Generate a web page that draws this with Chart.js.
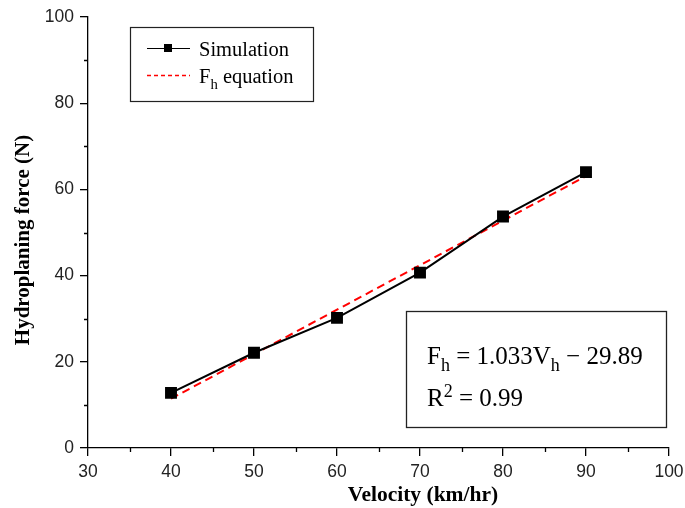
<!DOCTYPE html>
<html>
<head>
<meta charset="utf-8">
<script src="https://cdn.jsdelivr.net/npm/chart.js@4/dist/chart.umd.min.js"></script>
<style>
  html, body { margin: 0; padding: 0; background: #fff; }
  #wrap { width: 685px; height: 508px; }
</style>
</head>
<body>
<div id="wrap"><canvas id="myChart" width="685" height="508"></canvas></div>
<script>
// data
const velocidades = [40, 50, 60, 70, 80, 90];
const fuerzaSim = [12.8, 22.1, 30.2, 40.7, 53.7, 64.0];
const ajusteX = [40, 90];
const ajusteY = [11.43, 63.08];
const ticksX = [30, 40, 50, 60, 70, 80, 90, 100];
const ticksY = [0, 20, 40, 60, 80, 100];
const menoresX = [35, 45, 55, 65, 75, 85, 95];
const menoresY = [10, 30, 50, 70, 90];
const tituloX = "Velocity (km/hr)";
const tituloY = "Hydroplaning force (N)";

const serif = "'Liberation Serif', 'Times New Roman', serif";
const sans = "'Liberation Sans', Arial, sans-serif";

const puntos = (xs, ys) => xs.map((x, i) => ({ x: x, y: ys[i] }));

// small outward minor ticks
const menores = {
  id: "menores",
  afterDraw(chart) {
    const ctx = chart.ctx;
    const sx = chart.scales.x;
    const sy = chart.scales.y;
    ctx.save();
    ctx.strokeStyle = "#000";
    ctx.lineWidth = 1.3;
    ctx.beginPath();
    menoresX.forEach((v) => {
      const px = Math.round(sx.getPixelForValue(v)) + 0.5;
      ctx.moveTo(px, sy.bottom);
      ctx.lineTo(px, sy.bottom + 4);
    });
    menoresY.forEach((v) => {
      const py = Math.round(sy.getPixelForValue(v)) + 0.5;
      ctx.moveTo(sx.left, py);
      ctx.lineTo(sx.left - 4, py);
    });
    ctx.stroke();
    ctx.restore();
  },
};

// text with subscript / superscript parts
const textoMixto = (ctx, partes, x, y, tam, familia) => {
  let cx = x;
  partes.forEach((p) => {
    const t = p.sub || p.sup ? tam * 0.72 : tam;
    ctx.font = t + "px " + familia;
    const dy = p.sub ? tam * 0.28 : p.sup ? -tam * 0.38 : 0;
    ctx.fillText(p.t, cx, y + dy);
    cx += ctx.measureText(p.t).width;
  });
  return cx;
};

const cajas = {
  id: "cajas",
  afterDraw(chart) {
    const ctx = chart.ctx;
    ctx.save();
    ctx.fillStyle = "#000";
    ctx.strokeStyle = "#222";
    ctx.lineWidth = 1.2;
    ctx.textBaseline = "alphabetic";

    // legend
    ctx.fillStyle = "#fff";
    ctx.fillRect(130.5, 27.5, 183, 74);
    ctx.strokeRect(130.5, 27.5, 183, 74);
    ctx.fillStyle = "#000";
    const ds0 = chart.data.datasets[0];
    const ds1 = chart.data.datasets[1];
    ctx.strokeStyle = ds0.borderColor;
    ctx.lineWidth = 1;
    ctx.beginPath();
    ctx.moveTo(147, 48.5);
    ctx.lineTo(190, 48.5);
    ctx.stroke();
    ctx.fillRect(164, 44, 8, 8);
    ctx.strokeStyle = ds1.borderColor;
    ctx.lineWidth = 1.3;
    ctx.setLineDash([4, 3]);
    ctx.beginPath();
    ctx.moveTo(147, 75.5);
    ctx.lineTo(190, 75.5);
    ctx.stroke();
    ctx.setLineDash([]);
    ctx.fillStyle = "#000";
    textoMixto(ctx, [{ t: ds0.label }], 199, 56, 20.5, serif);
    textoMixto(ctx, [{ t: "F" }, { t: "h", sub: true }, { t: " equation" }], 199, 83, 20.5, serif);

    // equation box
    ctx.strokeStyle = "#222";
    ctx.lineWidth = 1.3;
    ctx.strokeRect(406.5, 311.5, 260, 116);
    textoMixto(ctx, [{ t: "F" }, { t: "h", sub: true }, { t: " = 1.033V" }, { t: "h", sub: true }, { t: " \u2212 29.89" }], 427, 364, 25, serif);
    textoMixto(ctx, [{ t: "R" }, { t: "2", sup: true }, { t: " = 0.99" }], 427, 406, 25, serif);

    // axis titles
    ctx.textAlign = "center";
    ctx.textBaseline = "middle";
    ctx.font = "bold 21.5px " + serif;
    ctx.fillText(tituloX, 423, 495);
    ctx.translate(24, 240);
    ctx.rotate(-Math.PI / 2);
    ctx.font = "bold 21px " + serif;
    ctx.fillText(tituloY, 0, 0);
    ctx.restore();
  },
};

const ejeComun = (ticksArr) => ({
  type: "linear",
  border: { display: true, color: "#000", width: 1.3 },
  grid: { drawOnChartArea: false, color: "#000", tickLength: 8, lineWidth: 1.3 },
  afterBuildTicks: (scale) => {
    scale.ticks = ticksArr.map((v) => ({ value: v }));
  },
  ticks: { color: "#222", font: { family: sans, size: 17.5 }, padding: 6, maxRotation: 0, autoSkip: false },
});

const config = {
  type: "scatter",
  data: {
    datasets: [
      {
        label: "Simulation",
        data: puntos(velocidades, fuerzaSim),
        showLine: true,
        borderColor: "#000",
        backgroundColor: "#000",
        borderWidth: 2,
        pointStyle: "rect",
        pointRadius: 7,
        pointHoverRadius: 7,
        order: 1,
      },
      {
        label: "Fh equation",
        data: puntos(ajusteX, ajusteY),
        showLine: true,
        borderColor: "#ff0000",
        borderWidth: 2,
        borderDash: [8, 5],
        pointRadius: 0,
        order: 2,
      },
    ],
  },
  options: {
    responsive: false,
    animation: false,
    layout: { padding: { top: 17, right: 16, left: 0, bottom: 0 } },
    plugins: { legend: { display: false }, tooltip: { enabled: false } },
    scales: {
      x: {
        ...ejeComun(ticksX),
        min: 30,
        max: 100,
        afterFit: (scale) => {
          scale.height = 60;
          scale.paddingLeft = 0;
          scale.paddingRight = 0;
        },
      },
      y: {
        ...ejeComun(ticksY),
        min: 0,
        max: 100,
        afterFit: (scale) => {
          scale.width = 88;
          scale.paddingTop = 0;
          scale.paddingBottom = 0;
        },
      },
    },
  },
  plugins: [menores, cajas],
};

const myChart = new Chart(document.querySelector("#myChart"), config);
</script>
</body>
</html>
